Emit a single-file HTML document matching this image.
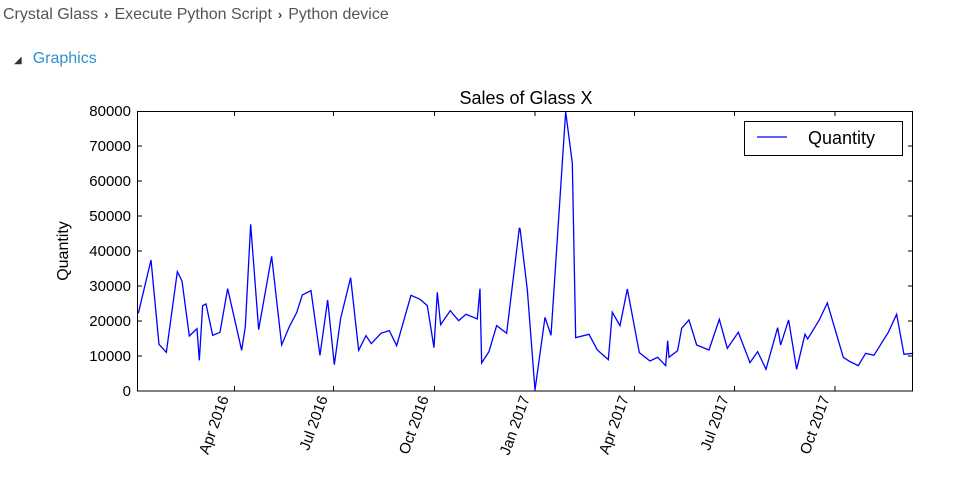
<!DOCTYPE html>
<html><head><meta charset="utf-8"><style>
body{margin:0;width:959px;height:481px;background:#fff;overflow:hidden;font-family:"Liberation Sans",sans-serif;}
.bc{position:absolute;left:3px;top:6px;font-size:16px;color:#555;}
.bc b{font-weight:bold;color:#444;margin:0 6px;font-size:13px}
.gr{position:absolute;left:14px;top:50px;font-size:16px;color:#2e8fcf;}
</style></head><body>
<div class="bc">Crystal Glass<b>›</b>Execute Python Script<b>›</b>Python device</div>
<div class="gr"><span style="font-size:10px;color:#333;margin-right:11px">◢</span>Graphics</div>
<svg width="959" height="481" style="position:absolute;left:0;top:0" font-family="Liberation Sans, sans-serif">
<text x="526" y="104" font-size="18" text-anchor="middle">Sales of Glass X</text>
<g font-size="15" text-anchor="end">
<text x="131" y="396">0</text><text x="131" y="361">10000</text><text x="131" y="326">20000</text><text x="131" y="291">30000</text><text x="131" y="256">40000</text><text x="131" y="221">50000</text><text x="131" y="186">60000</text><text x="131" y="151">70000</text><text x="131" y="116">80000</text>
</g>
<text transform="translate(68,251) rotate(-90)" font-size="16" text-anchor="middle">Quantity</text>
<g stroke="#000" stroke-width="1">
<path d="M137 356h5M137 321h5M137 286h5M137 251h5M137 216h5M137 181h5M137 146h5M913 356h-5M913 321h-5M913 286h-5M913 251h-5M913 216h-5M913 181h-5M913 146h-5"/>
<path d="M234.5 391v-5M333.5 391v-5M434.5 391v-5M535 391v-5M634.5 391v-5M734.5 391v-5M835 391v-5M234.5 111v5M333.5 111v5M434.5 111v5M535 111v5M634.5 111v5M734.5 111v5M835 111v5"/>
</g>
<g font-size="15" text-anchor="end">
<text transform="translate(229,398) rotate(-70)">Apr 2016</text>
<text transform="translate(328,398) rotate(-70)">Jul 2016</text>
<text transform="translate(429,398) rotate(-70)">Oct 2016</text>
<text transform="translate(530,398) rotate(-70)">Jan 2017</text>
<text transform="translate(629,398) rotate(-70)">Apr 2017</text>
<text transform="translate(729,398) rotate(-70)">Jul 2017</text>
<text transform="translate(830,398) rotate(-70)">Oct 2017</text>
</g>
<g fill="none" stroke="#00f" stroke-width="1.3">
<polyline vector-effect="non-scaling-stroke" transform="translate(130,100) scale(0.3333)" points="25,640 63,480 87,733 109,757 142,515 156,543 178,708 201,686 208,781 218,617 228,612 248,706 270,697 293,566 335,751 346,680 362,373 386,689 425,469 455,735 478,680 500,638 517,585 543,572 570,766 593,600 613,794 632,655 662,533 686,751 708,707 724,731 753,700 778,692 800,737 843,586 870,598 892,617 912,743 922,577 932,674 961,632 986,662 1008,643 1042,657 1050,566 1055,789 1077,755 1100,677 1130,700 1168,385 1170,385"/>
<polyline vector-effect="non-scaling-stroke" transform="translate(520,100) scale(0.3333)" points="0,385 22,570 45,870 75,652 93,706 137,35 157,190 167,713 207,703 232,750 265,779 277,637 300,677 322,567 358,758 390,783 413,772 437,797 443,722 447,772 473,752 485,685 507,660 530,735 567,750 598,658 622,745 655,697 690,788 713,755 738,808 773,683 782,735 806,660 830,808 855,703 863,717 898,660 922,609 970,772 990,785 1015,797 1037,760 1062,766 1105,697 1130,643 1152,763 1180,760"/>
</g>
<rect x="137.5" y="111.5" width="775" height="279.5" fill="none" stroke="#000" stroke-width="1"/>
<rect x="744.5" y="121.5" width="158" height="34" fill="#fff" stroke="#000" stroke-width="1"/>
<line x1="757" y1="137" x2="787" y2="137" stroke="#00f" stroke-width="1.3"/>
<text x="808" y="144" font-size="18">Quantity</text>
</svg>
</body></html>
